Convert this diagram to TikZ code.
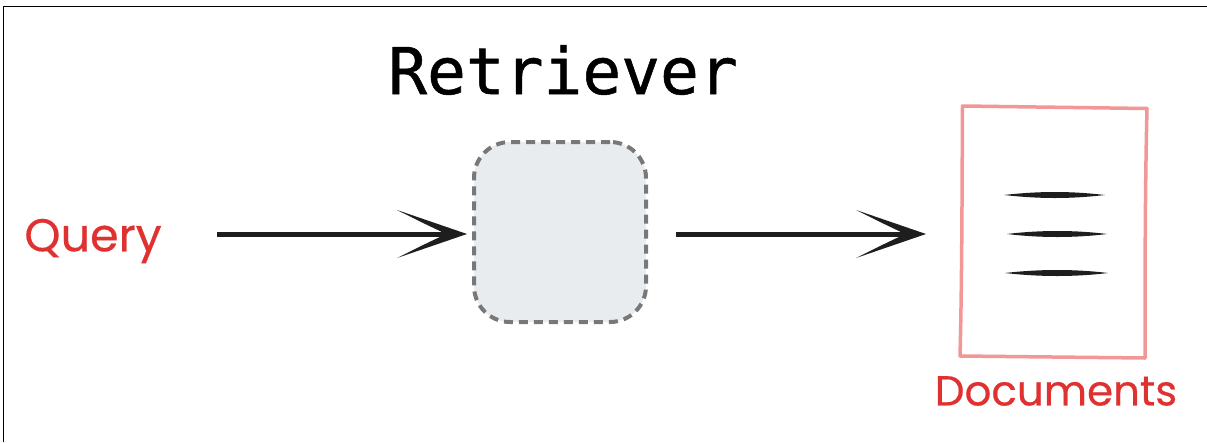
\documentclass[tikz,border=0pt]{standalone}
\usepackage{fontspec}
\setmainfont[FakeBold=0.4]{Poppins}
\setmonofont[FakeBold=0.8]{DejaVu Sans Mono}
\usetikzlibrary{arrows.meta}
\definecolor{labelred}{RGB}{224,49,49}
\definecolor{docred}{RGB}{242,150,150}
\definecolor{boxgray}{RGB}{233,236,239}
\definecolor{edgegray}{RGB}{120,120,120}
\definecolor{inkblack}{RGB}{30,30,30}
\tikzset{
redlabel/.style={text=labelred,inner sep=0pt},
flow/.style={line width=5pt,inkblack},
barbhead/.pic={\fill[inkblack] (0,0) -- (-70,-24) .. controls (-52,-15) and (-40,-9) .. (-26,-2.5) -- (-26,2.5) .. controls (-40,9) and (-52,15) .. (-70,24) -- cycle;},
}
\begin{document}
\begin{tikzpicture}[x=1pt,y=-1pt]
\useasboundingbox (0,0) rectangle (1207,442);
\draw[line width=1pt] (3,442) -- (3,6.5) -- (1207,6.5);

\node[font=\ttfamily\fontsize{64.5}{64.5}\selectfont,inner sep=0pt] (title) at (563,70) {Retriever};
\node[redlabel,font=\fontsize{46}{46}\selectfont] (query) at (93,241) {Query};
\node[redlabel,font=\fontsize{42}{42}\selectfont] (documents) at (1056,391) {Documents};
\node[draw=edgegray,fill=boxgray,dash pattern=on 9pt off 6pt,line width=4pt,rounded corners=36pt,minimum width=172pt,minimum height=180pt,inner sep=0pt] (retriever) at (560,232) {};

\coordinate (qstart) at (217,234);
\coordinate (qend) at (467,234);
\coordinate (rstart) at (676,234);
\coordinate (rend) at (926,234);
\draw[flow] (qstart) -- ([xshift=-20pt]qend);
\draw[flow] (rstart) -- ([xshift=-20pt]rend);
\pic at (qend) {barbhead};
\pic at (rend) {barbhead};

% page outline, drawn by hand
\draw[docred,line width=3.5pt,line join=round] (962.5,106) -- (1147,108.5) .. controls (1145,190) and (1145,280) .. (1145,358) -- (960,356) .. controls (962,280) and (962,190) .. (962.5,106) -- cycle;

% lines on the page
\fill[inkblack] (1004,195) .. controls (1040,191) and (1070,191) .. (1105,195) .. controls (1070,199) and (1040,199) .. (1004,195) -- cycle;
\fill[inkblack] (1007,234) .. controls (1040,230) and (1075,230) .. (1107,234) .. controls (1075,238) and (1040,238) .. (1007,234) -- cycle;
\fill[inkblack] (1005,273) .. controls (1040,269) and (1075,269) .. (1108,273) .. controls (1075,277) and (1040,277) .. (1005,273) -- cycle;
\end{tikzpicture}
\end{document}
